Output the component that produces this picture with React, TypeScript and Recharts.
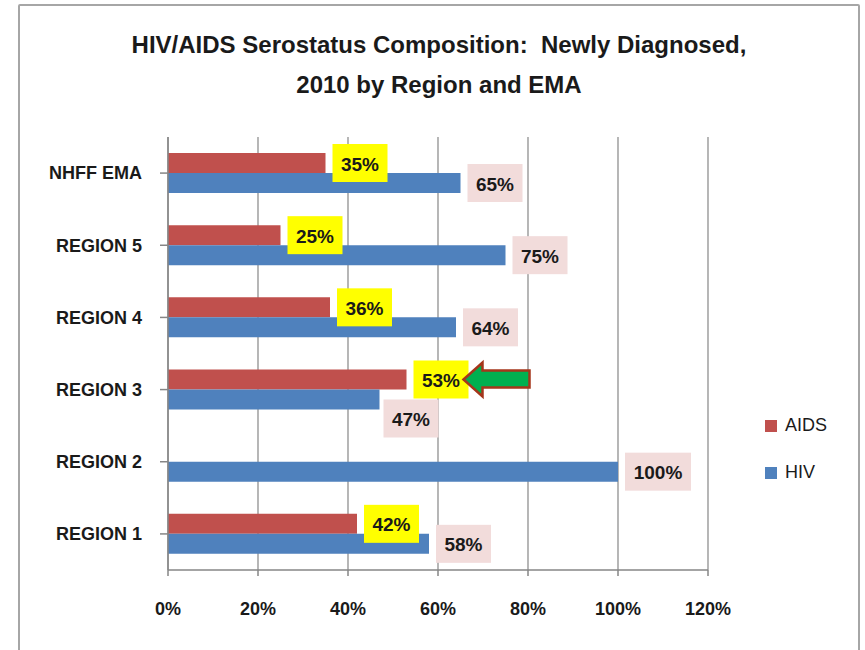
import React from 'react';
import { BarChart, Bar, XAxis, YAxis, CartesianGrid, LabelList } from 'recharts';

const categories = ['NHFF EMA', 'REGION 5', 'REGION 4', 'REGION 3', 'REGION 2', 'REGION 1'];
const aidsValues = [35, 25, 36, 53, 0, 42];
const hivValues = [65, 75, 64, 47, 100, 58];
const xTicks = [0, 20, 40, 60, 80, 100, 120];

const data = categories.map((name, i) => ({ name, AIDS: aidsValues[i], HIV: hivValues[i] }));

const COLORS = {
  AIDS: '#C0504D',
  HIV: '#4F81BD'
};

const FONT = '"Liberation Sans", Arial, sans-serif';
const AXIS = '#868686';

const renderLabel = (series: 'AIDS' | 'HIV') => (props: any) => {
  const { x, y, width, height, value, index } = props;
  if (!value) return null;
  const name = categories[index];
  const text = `${value}%`;
  const boxW = text.length > 3 ? 66 : 55;
  const boxH = 38;
  let bx = x + width + 7;
  let cy = y + height / 2;
  // the 47% label sits under its bar in the original
  if (series === 'HIV' && name === 'REGION 3') {
    bx = x + width + 4;
    cy += 19;
  }
  const fill = series === 'AIDS' ? '#FFFF00' : '#F2DCDB';
  return (
    <g>
      <rect x={bx} y={cy - boxH / 2} width={boxW} height={boxH} fill={fill} />
      <text
        x={bx + boxW / 2}
        y={cy + 1}
        textAnchor="middle"
        dominantBaseline="central"
        fontFamily={FONT}
        fontWeight="bold"
        fontSize={19}
        fill="#1a1a1a"
      >
        {text}
      </text>
      {series === 'AIDS' && name === 'REGION 3' && (
        <polygon
          points={[
            [bx + boxW - 5, cy],
            [bx + boxW + 14, cy - 17],
            [bx + boxW + 14, cy - 9],
            [bx + boxW + 61, cy - 9],
            [bx + boxW + 61, cy + 8],
            [bx + boxW + 14, cy + 8],
            [bx + boxW + 14, cy + 17]
          ]
            .map(p => p.join(','))
            .join(' ')}
          fill="#00B050"
          stroke="#A5361B"
          strokeWidth={2.5}
          strokeLinejoin="miter"
        />
      )}
    </g>
  );
};

const ChartLegend = () => (
  <div style={{ position: 'absolute', left: 765, top: 402, fontFamily: FONT, fontSize: 18, color: '#1a1a1a' }}>
    {(['AIDS', 'HIV'] as const).map(k => (
      <div key={k} style={{ display: 'flex', alignItems: 'center', height: 47 }}>
        <span style={{ width: 12, height: 12, background: COLORS[k], marginRight: 8 }} />
        {k}
      </div>
    ))}
  </div>
);

const App: React.FC = () => {
  return (
    <div style={{ position: 'absolute', left: 0, top: 0, width: 865, height: 650, background: '#fff', overflow: 'hidden' }}>
      <div
        style={{
          position: 'absolute',
          left: 18,
          top: 4,
          width: 838,
          height: 700,
          border: '2.5px solid #A6A6A6',
          borderRadius: 2
        }}
      />
      <div
        style={{
          position: 'absolute',
          left: 0,
          top: 25,
          width: 878,
          textAlign: 'center',
          fontFamily: FONT,
          fontWeight: 'bold',
          fontSize: 24,
          lineHeight: '40px',
          color: '#1a1a1a',
          whiteSpace: 'pre'
        }}
      >
        {'HIV/AIDS Serostatus Composition:  Newly Diagnosed,\n2010 by Region and EMA'}
      </div>
      <div style={{ position: 'absolute', left: 0, top: 0 }}>
        <BarChart
          width={865}
          height={650}
          data={data}
          layout="vertical"
          margin={{ top: 137, right: 157, bottom: 40, left: 0 }}
          barSize={20}
          barGap={0}
        >
          <CartesianGrid horizontal={false} stroke={AXIS} strokeWidth={1.2} />
          <XAxis
            type="number"
            domain={[0, 120]}
            ticks={xTicks}
            tickFormatter={v => `${v}%`}
            stroke={AXIS}
            strokeWidth={1.5}
            tickSize={6}
            tickMargin={26}
            height={40}
            interval={0}
            tick={{ fontFamily: FONT, fontWeight: 'bold', fontSize: 18, fill: '#1a1a1a' }}
          />
          <YAxis
            type="category"
            dataKey="name"
            width={168}
            stroke={AXIS}
            strokeWidth={1.5}
            tickSize={8}
            tickMargin={18}
            tickLine={{ stroke: AXIS }}
            tick={{ fontFamily: FONT, fontWeight: 'bold', fontSize: 18, fill: '#1a1a1a' }}
          />
          <Bar dataKey="AIDS" fill={COLORS.AIDS} isAnimationActive={false}>
            <LabelList dataKey="AIDS" content={renderLabel('AIDS')} />
          </Bar>
          <Bar dataKey="HIV" fill={COLORS.HIV} isAnimationActive={false}>
            <LabelList dataKey="HIV" content={renderLabel('HIV')} />
          </Bar>
        </BarChart>
      </div>
      <ChartLegend />
    </div>
  );
};

export default App;
